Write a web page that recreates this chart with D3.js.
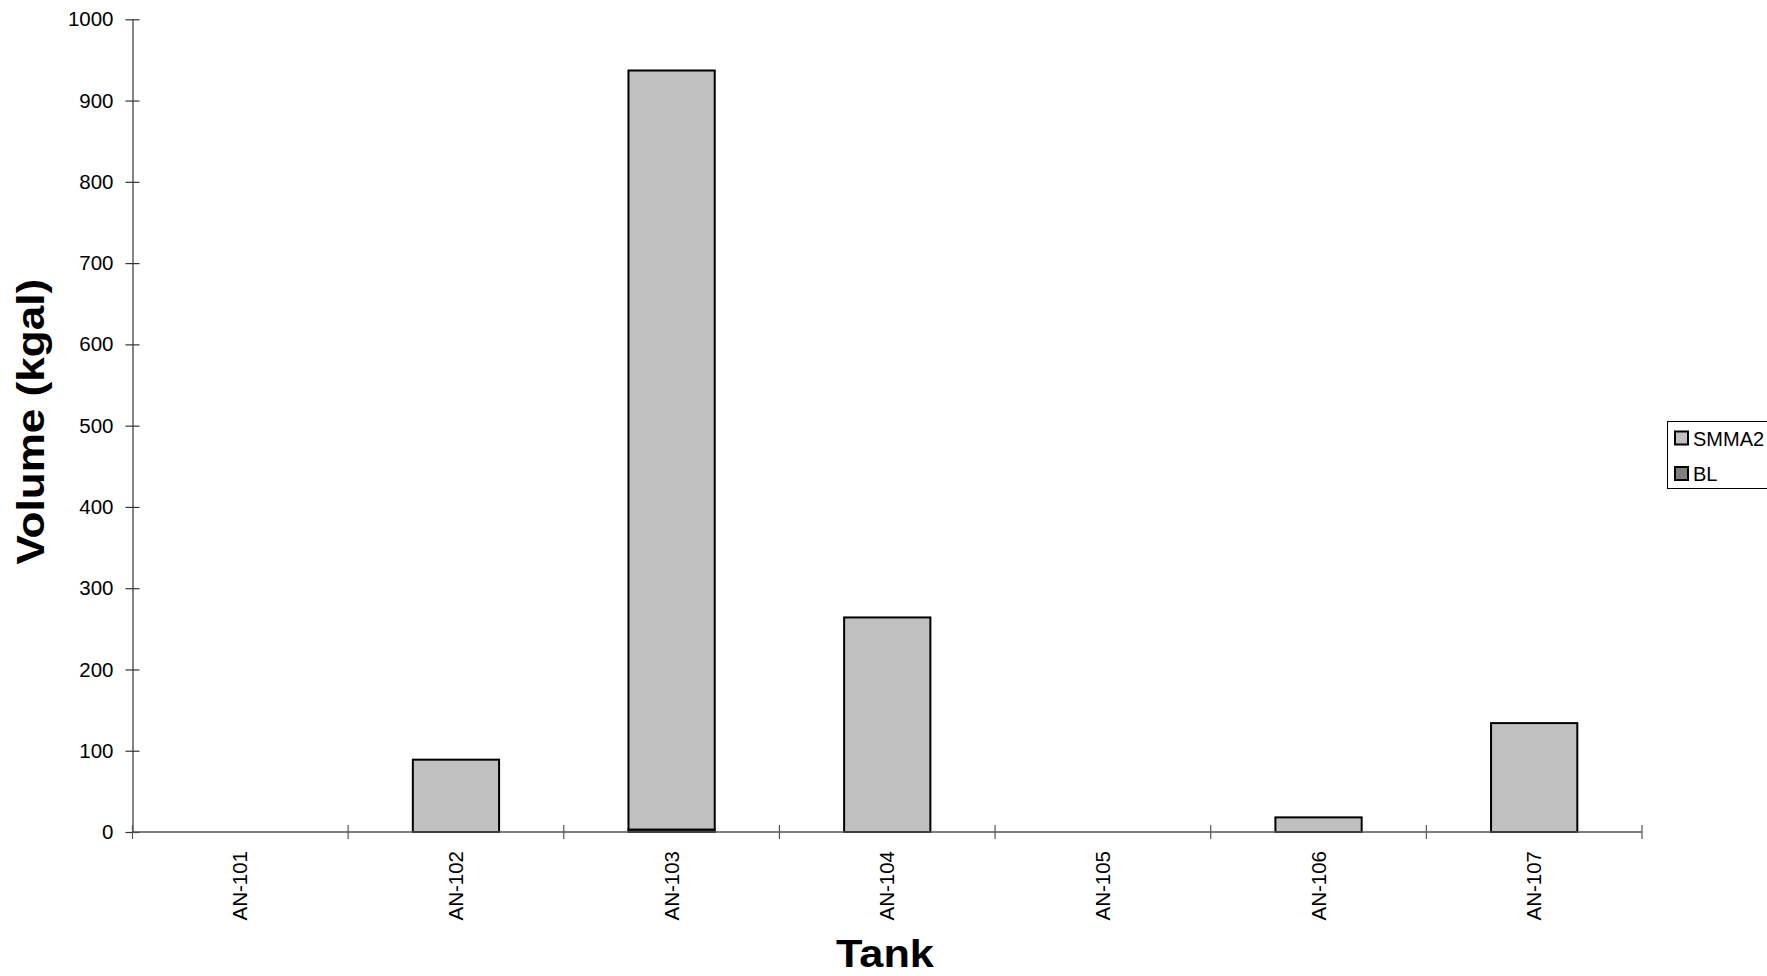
<!DOCTYPE html>
<html>
<head>
<meta charset="utf-8">
<script src="https://cdn.jsdelivr.net/npm/d3@7"></script>
<style>
  html, body { margin: 0; padding: 0; background: #fff; }
  svg { display: block; font-family: "Liberation Sans", Arial, Helvetica, sans-serif; }
</style>
</head>
<body>
<svg id="chart" width="1767" height="976"></svg>
<script>
// Tank volumes in kgal, stacked: BL on the bottom, SMMA2 above it
const tanks = ["AN-101", "AN-102", "AN-103", "AN-104", "AN-105", "AN-106", "AN-107"];
const blValues = [0, 0, 3, 0, 0, 0, 0];
const smma2Values = [0, 89, 934, 264, 0, 18, 134];
const yTicks = [0, 100, 200, 300, 400, 500, 600, 700, 800, 900, 1000];
const seriesNames = ["BL", "SMMA2"];
const legendOrder = ["SMMA2", "BL"];
const seriesColors = { SMMA2: "#c0c0c0", BL: "#808080" };

const svg = d3.select("#chart");

const plot = { left: 132.5, right: 1642, top: 19.3, bottom: 832 };

const x = d3.scaleBand()
  .domain(tanks)
  .range([plot.left, plot.right])
  .paddingInner(0.6)
  .paddingOuter(0.3);

const y = d3.scaleLinear()
  .domain([0, 1000])
  .range([plot.bottom, plot.top]);

const rows = tanks.map((t, i) => ({ tank: t, BL: blValues[i], SMMA2: smma2Values[i] }));
const stacked = d3.stack().keys(seriesNames)(rows);

// Bars
const g = svg.append("g");
stacked.forEach(layer => {
  g.append("g")
    .selectAll("rect")
    .data(layer.filter(d => d[1] - d[0] > 0))
    .join("rect")
    .attr("x", d => x(d.data.tank))
    .attr("width", x.bandwidth())
    .attr("y", d => y(d[1]))
    .attr("height", d => y(d[0]) - y(d[1]))
    .attr("fill", seriesColors[layer.key])
    .attr("stroke", "#000")
    .attr("stroke-width", 2);
});

// Y axis with ticks crossing the line
const yAxis = svg.append("g")
  .attr("transform", `translate(${plot.left},0)`)
  .call(d3.axisLeft(y).tickValues(yTicks).tickFormat(d3.format("d"))
    .tickSize(7).tickPadding(12).tickSizeOuter(0));
yAxis.select(".domain").attr("stroke", "#333").attr("stroke-width", 1.2);
yAxis.selectAll(".tick line").attr("x1", 7).attr("stroke", "#333").attr("stroke-width", 1.2);
yAxis.selectAll(".tick text")
  .attr("font-size", 20.5)
  .attr("fill", "#000")
  .attr("font-family", "Liberation Sans, Arial, sans-serif");

// X axis: baseline, category boundary ticks, rotated labels
const xAxis = svg.append("g");
xAxis.append("line")
  .attr("x1", plot.left).attr("x2", plot.right)
  .attr("y1", y(0)).attr("y2", y(0))
  .attr("stroke", "#555").attr("stroke-width", 1.5);

const step = x.step();
const bounds = tanks.map(t => x(t) - (step - x.bandwidth()) / 2).concat([plot.right]);
xAxis.selectAll("line.tick")
  .data(bounds)
  .join("line")
  .attr("class", "tick")
  .attr("x1", d => d).attr("x2", d => d)
  .attr("y1", y(0) - 7).attr("y2", y(0) + 7)
  .attr("stroke", "#555").attr("stroke-width", 1.2);

xAxis.selectAll("text")
  .data(tanks)
  .join("text")
  .attr("transform", d => `translate(${x(d) + x.bandwidth() / 2 + 7},${y(0) + 19}) rotate(-90)`)
  .attr("text-anchor", "end")
  .attr("font-size", 20.5)
  .attr("fill", "#000")
  .text(d => d);

// Axis titles (slightly widened lettering)
svg.append("text")
  .attr("transform", `translate(44,421.7) rotate(-90) scale(1.16,1)`)
  .attr("text-anchor", "middle")
  .attr("font-size", 38)
  .attr("font-weight", "bold")
  .text("Volume (kgal)");

svg.append("text")
  .attr("transform", `translate(885,966.5) scale(1.14,1)`)
  .attr("text-anchor", "middle")
  .attr("font-size", 38)
  .attr("font-weight", "bold")
  .text("Tank");

// Legend (box runs to the right edge of the page)
const legend = svg.append("g");
legend.append("rect")
  .attr("x", 1667.5).attr("y", 421.5)
  .attr("width", 120).attr("height", 67)
  .attr("fill", "#fff").attr("stroke", "#000").attr("stroke-width", 1);

const legendItems = legend.selectAll("g.item")
  .data(legendOrder)
  .join("g")
  .attr("class", "item")
  .attr("transform", (d, i) => `translate(1675,${438 + i * 35.5})`);

legendItems.append("rect")
  .attr("x", 0).attr("y", -6.5)
  .attr("width", 13).attr("height", 13)
  .attr("fill", d => seriesColors[d])
  .attr("stroke", "#000").attr("stroke-width", 2);

legendItems.append("text")
  .attr("x", 18).attr("y", 7.5)
  .attr("font-size", 20)
  .attr("fill", "#000")
  .text(d => d);
</script>
</body>
</html>
